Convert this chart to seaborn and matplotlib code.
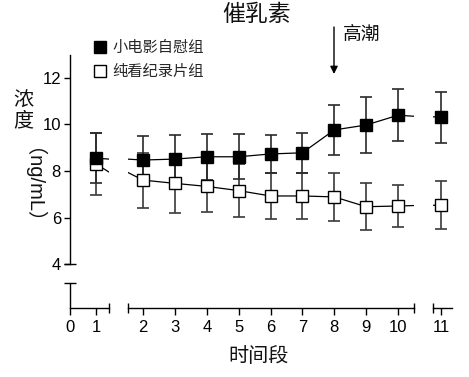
import matplotlib
matplotlib.use("Agg")
import matplotlib.pyplot as plt
from matplotlib.lines import Line2D
import seaborn as sns

# ---- data ----
time = [1, 2, 3, 4, 5, 6, 7, 8, 9, 10, 11]
black_mean = [8.55, 8.47, 8.51, 8.61, 8.61, 8.73, 8.78, 9.76, 9.97, 10.39, 10.30]
black_err = [1.08, 1.04, 1.03, 0.98, 0.96, 0.80, 0.85, 1.08, 1.20, 1.12, 1.08]
white_mean = [8.30, 7.61, 7.47, 7.34, 7.16, 6.93, 6.93, 6.89, 6.47, 6.50, 6.54]
white_err = [1.34, 1.18, 1.26, 1.08, 1.12, 0.97, 0.97, 1.02, 1.00, 0.92, 1.02]
label_black = "小电影自慰组"
label_white = "纯看纪录片组"
title = "催乳素"
xlabel = "时间段"
annot = "高潮"
yticks = [4, 6, 8, 10, 12]
seg_ticks = [[0, 1], [2, 3, 4, 5, 6, 7, 8, 9, 10], [11]]

sns.set_theme(style="white")
plt.rcParams['font.family'] = ['Liberation Sans', 'Noto Sans CJK SC']
plt.rcParams['axes.linewidth'] = 1.0

W, H = 469, 377
fig = plt.figure(figsize=(W / 100, H / 100), dpi=100)
fig.patch.set_facecolor('white')


def rect(x0, x1):
    return [x0 / W, (H - 308) / H, (x1 - x0) / W, (308 - 55) / H]


ax1 = fig.add_axes(rect(70, 109))
ax2 = fig.add_axes(rect(128, 414))
ax3 = fig.add_axes(rect(433, 452))
axes = [ax1, ax2, ax3]
xlims = [(0, 1.5), (1.53, 10.5), (10.75, 11.34)]
YLO, YHI = 2.13, 12.97

for ax, xl, tk in zip(axes, xlims, seg_ticks):
    ax.set_facecolor('none')
    ax.errorbar(time, white_mean, yerr=white_err, fmt='none', ecolor='#3a3a3a',
                elinewidth=1.2, capsize=4.5, capthick=1.2, zorder=1)
    ax.errorbar(time, black_mean, yerr=black_err, fmt='none', ecolor='#2a2a2a',
                elinewidth=1.2, capsize=4.5, capthick=1.2, zorder=1)
    sns.lineplot(x=time, y=white_mean, ax=ax, color='black', marker='s',
                 markersize=8, markerfacecolor='white', markeredgecolor='black',
                 markeredgewidth=1.0, linewidth=0.9, zorder=3)
    sns.lineplot(x=time, y=black_mean, ax=ax, color='black', marker='s',
                 markersize=8, markerfacecolor='black', markeredgecolor='black',
                 markeredgewidth=1.0, linewidth=0.9, zorder=4)
    ax.set_xlim(*xl)
    ax.set_ylim(YLO, YHI)
    ax.set_xlabel('')
    ax.set_ylabel('')
    ax.set_xticks(tk)
    ax.set_xticklabels([str(t) for t in tk])
    ax.tick_params(axis='x', direction='out', length=5, width=1.0, pad=4,
                   labelsize=12, colors='black', bottom=True)
    for s in ['top', 'right']:
        ax.spines[s].set_visible(False)
    ax.spines['bottom'].set_color('black')
    ax.spines['left'].set_color('black')
    if ax is not ax1:
        ax.spines['left'].set_visible(False)
        ax.set_yticks([])
    ax.grid(False)

# y axis on first segment
ax1.set_yticks(yticks)
ax1.set_yticklabels([str(t) for t in yticks])
ax1.tick_params(axis='y', direction='out', length=4.5, width=1.0, pad=2,
                labelsize=12, colors='black', left=True)
ax1.spines['left'].set_bounds(4, YHI)
ax1.spines['bottom'].set_bounds(0, 1.5)

# lower piece of the broken y axis and break caps
ax1.plot([0, 0], [YLO, 3.2], color='black', lw=1.0, clip_on=False, zorder=5)
capkw = dict(color='black', mew=1.0, clip_on=False, zorder=5, ls='none')
ax1.plot([0], [3.2], marker='_', ms=8, **capkw)
ax1.plot([0], [4], marker='_', ms=8, **capkw)
ax1.plot([1.5], [YLO], marker='|', ms=7, **capkw)
ax2.plot([1.53], [YLO], marker='|', ms=7, **capkw)
ax2.plot([10.5], [YLO], marker='|', ms=7, **capkw)
ax3.plot([10.75], [YLO], marker='|', ms=7, **capkw)

# title, axis labels
fig.text(257 / W, 1 - 14 / H, title, ha='center', va='center', fontsize=16.5,
         color='#111')
fig.text(259 / W, 1 - 357 / H, xlabel, ha='center', va='center', fontsize=14.5,
         color='#111')
fig.text(23 / W, 1 - 111 / H, "浓\n度", ha='center', va='center', fontsize=14.5,
         linespacing=1.05, color='#111')
fig.text(23 / W, 1 - 196 / H, "（ng/mL）", ha='center', va='center',
         fontsize=14.5, rotation=-90, color='#111')

# climax annotation
fig.text(343 / W, 1 - 35 / H, annot, ha='left', va='center', fontsize=13.5,
         color='#111')
ax2.annotate('', xy=(334, H - 74), xytext=(334, H - 27),
             xycoords='figure pixels', textcoords='figure pixels',
             arrowprops=dict(arrowstyle='-|>', color='black', lw=1.0,
                             mutation_scale=11, shrinkA=0, shrinkB=0),
             annotation_clip=False)

# legend
handles = [
    Line2D([], [], ls='none', marker='s', ms=8, mfc='black', mec='black'),
    Line2D([], [], ls='none', marker='s', ms=8, mfc='white', mec='black'),
]
fig.legend(handles, [label_black, label_white], loc='upper left',
           bbox_to_anchor=(95 / W, 1 - 41 / H), frameon=False, fontsize=11,
           handlelength=0.7, handletextpad=0.45, labelspacing=0.65,
           borderpad=0, borderaxespad=0)

fig.savefig('out.png', dpi=100, facecolor='white')
